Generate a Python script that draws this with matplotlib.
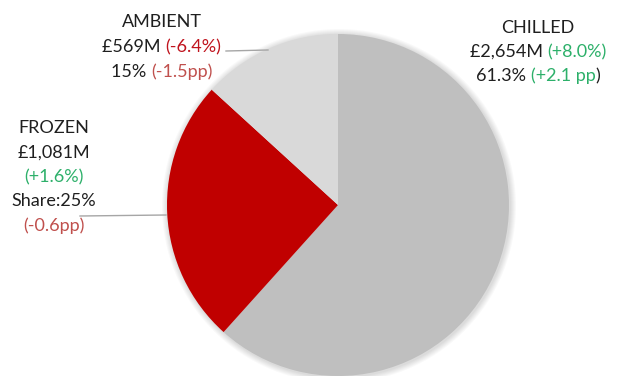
import matplotlib
matplotlib.use('Agg')
import matplotlib.pyplot as plt
from matplotlib.offsetbox import TextArea, HPacker, AnnotationBbox
from matplotlib.patches import Circle

plt.rcParams['font.family'] = ['Lato', 'DejaVu Sans']

# sales by temperature category, £M
categories = ['CHILLED', 'FROZEN', 'AMBIENT']
sales = [2654, 1081, 569]
slice_colors = ['#BFBFBF', '#C00000', '#D9D9D9']

DARK = '#1F1F1F'
GREEN = '#2DB06A'
RED = '#C0141E'
MUTED_RED = '#C0504D'

# label lines: list of (text, colour) pieces per line
labels = {
    'CHILLED': [
        [('CHILLED', DARK)],
        [('£2,654M ', DARK), ('(+8.0%)', GREEN)],
        [('61.3% ', DARK), ('(+2.1 pp', GREEN), (')', DARK)],
    ],
    'AMBIENT': [
        [('AMBIENT', DARK)],
        [('£569M ', DARK), ('(-6.4%)', RED)],
        [('15% ', DARK), ('(-1.5pp)', MUTED_RED)],
    ],
    'FROZEN': [
        [('FROZEN', DARK)],
        [('£1,081M', DARK)],
        [('(+1.6%)', GREEN)],
        [('Share:25%', DARK)],
        [('(-0.6pp)', MUTED_RED)],
    ],
}

W, H = 622, 376
fig = plt.figure(figsize=(W / 100, H / 100), dpi=100)
ax = fig.add_axes([0, 0, 1, 1])

cx, cy, r = 338, H - 205, 171

# soft shadow behind the pie
for i in range(6):
    ax.add_patch(Circle((cx + 1, cy - 1), r + 1 + i, color='black', alpha=0.025, lw=0, zorder=0))

ax.pie(sales, colors=slice_colors, startangle=90, counterclock=False,
       center=(cx, cy), radius=r, frame=True,
       wedgeprops=dict(linewidth=0))
ax.set_xlim(0, W)
ax.set_ylim(0, H)
ax.set_aspect('equal')
ax.axis('off')

# leader lines
ax.plot([226, 268], [H - 51, H - 50], color='#A6A6A6', lw=1)
ax.plot([80, 166], [H - 216, H - 215], color='#A6A6A6', lw=1)

positions = {
    'CHILLED': (538, [28, 52, 76]),
    'AMBIENT': (162, [22, 47, 72]),
    'FROZEN': (54, [128, 153, 177, 201, 226]),
}

for name, (x, ys) in positions.items():
    for line, y in zip(labels[name], ys):
        parts = [TextArea(t, textprops=dict(color=c, fontsize=13)) for t, c in line]
        box = HPacker(children=parts, pad=0, sep=0, align='baseline')
        ab = AnnotationBbox(box, (x, H - y), xycoords='data', frameon=False,
                            box_alignment=(0.5, 0.5), pad=0)
        ax.add_artist(ab)

fig.savefig('out.png', dpi=100)
